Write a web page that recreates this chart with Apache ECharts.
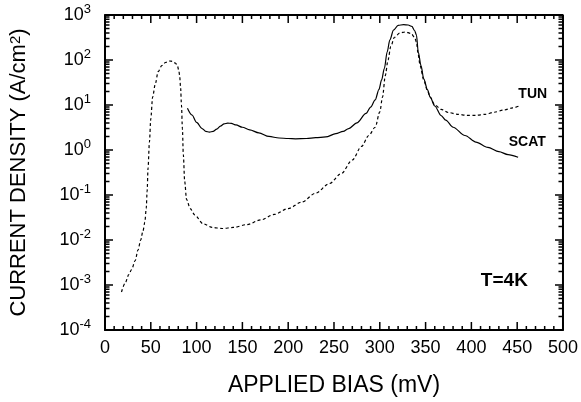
<!DOCTYPE html>
<html>
<head>
<meta charset="utf-8">
<script src="https://cdn.jsdelivr.net/npm/echarts@6/dist/echarts.min.js"></script>
<style>
  html, body { margin: 0; background: #fff; }
  #chart { width: 581px; height: 402px; }
</style>
</head>
<body>
<div id="chart"></div>
<script>
// TUN (dashed)
var tunBias = [18, 22, 26, 29, 33, 36, 39, 41.5, 43.5, 45, 46, 47, 48.5, 50, 52, 55, 58, 62, 66, 70, 74, 77, 79, 80.5, 81.5, 82.5, 83.5, 84.5, 85.5, 87, 89, 93, 98, 107, 117, 128, 140, 155, 170, 185, 200, 215, 230, 245, 258, 270, 280, 288, 295, 300, 303, 306, 309, 312, 316, 322, 328, 334, 338, 340, 342, 344, 348, 352, 355, 360, 367, 375, 385, 395, 405, 415, 425, 435, 445, 452]
var tunDensity = [7e-4, 1.1e-3, 1.7e-3, 2.2e-3, 3.5e-3, 6e-3, 1e-2, 1.6e-2, 2.5e-2, 5e-2, 0.12, 0.4, 1.5, 5, 15, 30, 55, 75, 88, 95, 93, 85, 75, 60, 45, 25, 10, 3, 0.8, 0.2, 0.08, 0.05, 0.036, 0.023, 0.019, 0.018, 0.019, 0.022, 0.028, 0.037, 0.05, 0.07, 0.11, 0.18, 0.3, 0.6, 1.2, 2.1, 3.2, 7, 15, 45, 100, 200, 320, 400, 420, 390, 320, 250, 130, 75, 36, 21, 15, 10, 8, 6.8, 6.2, 5.9, 5.9, 6.2, 6.9, 7.7, 8.6, 9.5]
// SCAT (solid)
var scatBias = [90, 95, 100, 106, 110, 114, 118, 122, 126, 130, 134, 138, 143, 150, 158, 168, 179, 190, 200, 208, 220, 230, 241, 252, 260, 266, 275, 285, 290, 295, 299, 302, 305, 308, 311, 315, 320, 326, 331, 335, 338, 340, 342, 345, 348, 352, 355, 360, 367, 372, 380, 393, 405, 418, 430, 440, 451]
var scatDensity = [8.5, 6, 4.1, 3, 2.6, 2.5, 2.6, 2.9, 3.4, 3.8, 3.95, 3.9, 3.6, 3.2, 2.8, 2.4, 2.0, 1.85, 1.8, 1.77, 1.8, 1.88, 1.95, 2.3, 2.6, 3, 4, 6.5, 9, 13, 22, 36, 65, 150, 280, 460, 590, 610, 600, 560, 450, 360, 150, 75, 38, 22, 15, 9.5, 5.8, 4.6, 3.2, 2.1, 1.5, 1.14, 0.92, 0.79, 0.69]
// axis ticks
var biasTicks = [0, 50, 100, 150, 200, 250, 300, 350, 400, 450, 500]
var biasMinorSteps = [10, 20, 30, 40]
var decades = [-4, -3, -2, -1, 0, 1, 2, 3]
var decadeMinorSteps = [2, 3, 4, 5, 6, 7, 8, 9]

var font = 'Liberation Sans, Arial, Helvetica, sans-serif'
var xMin = 0, xMax = 500, yMin = 1e-4, yMax = 1e3

function pairs (xs, ys) {
  return xs.map(function (x, i) { return [x, ys[i]] })
}

var chart = echarts.init(document.getElementById('chart'))

chart.setOption({
  animation: false,
  grid: { left: 105, right: 16, top: 15, bottom: 59 },
  xAxis: [{
    type: 'value', min: xMin, max: xMax, interval: 50, position: 'bottom',
    axisLine: { show: true, onZero: false, lineStyle: { color: '#000', width: 2 } },
    axisTick: { show: false },
    splitLine: { show: false },
    name: 'APPLIED BIAS (mV)', nameLocation: 'middle', nameGap: 44,
    nameTextStyle: { fontFamily: font, fontSize: 23, color: '#000' },
    axisLabel: { fontFamily: font, fontSize: 18, color: '#000', margin: 9 }
  }],
  yAxis: [{
    type: 'log', logBase: 10, min: yMin, max: yMax, position: 'left',
    axisLine: { show: true, onZero: false, lineStyle: { color: '#000', width: 2 } },
    axisTick: { show: false },
    splitLine: { show: false },
    name: '{n|CURRENT DENSITY (A/cm}{s|2}{n|)}', nameLocation: 'middle', nameGap: 75,
    nameTextStyle: { rich: {
      n: { fontFamily: font, fontSize: 22, color: '#000' },
      s: { fontFamily: font, fontSize: 15, color: '#000', verticalAlign: 'top' } } },
    axisLabel: { margin: 14,
      formatter: function (v) { return '{b|10}{e|' + Math.round(Math.log10(v)) + '}' },
      rich: {
        b: { fontFamily: font, fontSize: 18, color: '#000', lineHeight: 24 },
        e: { fontFamily: font, fontSize: 13, color: '#000', verticalAlign: 'top' } } }
  }],
  series: [
    {
      id: 'tun',
      name: 'TUN',
      type: 'line',
      data: pairs(tunBias, tunDensity),
      showSymbol: false,
      smooth: 0.3,
      smoothMonotone: 'x',
      lineStyle: { color: '#000', width: 1.2, type: [3, 2.5] },
      markPoint: {
        symbol: 'circle',
        symbolSize: 0,
        label: { show: true, position: 'inside', formatter: 'TUN', fontFamily: font, fontSize: 14, fontWeight: 'bold', color: '#000' },
        data: [{ coord: [467, 17.8] }]
      }
    },
    {
      id: 'scat',
      name: 'SCAT',
      type: 'line',
      data: pairs(scatBias, scatDensity),
      showSymbol: false,
      smooth: 0.3,
      smoothMonotone: 'x',
      lineStyle: { color: '#000', width: 1.2 },
      markPoint: {
        symbol: 'circle',
        symbolSize: 0,
        label: { show: true, position: 'inside', fontFamily: font, fontWeight: 'bold', color: '#000',
          formatter: function (p) { return p.name } },
        data: [
          { name: 'SCAT', coord: [461, 1.52], label: { fontSize: 14 } },
          { name: 'T=4K', coord: [436, 1.23e-3], label: { fontSize: 19 } }
        ]
      }
    }
  ]
})

// frame and inward ticks, built through the axes' own pixel <-> value mapping
var finder = { xAxisIndex: 0, yAxisIndex: 0 }
var tickData = []
function tick (from, dx, dy) {
  var p = chart.convertToPixel(finder, from)
  var q = chart.convertFromPixel(finder, [p[0] + dx, p[1] + dy])
  tickData.push(from, q, ['-', '-'])
}
biasTicks.forEach(function (t) {
  tick([t, yMin], 0, -8)
  tick([t, yMax], 0, 8)
  if (t < xMax) {
    biasMinorSteps.forEach(function (s) {
      tick([t + s, yMin], 0, -4)
      tick([t + s, yMax], 0, 4)
    })
  }
})
decades.forEach(function (k) {
  var v = Math.pow(10, k)
  tick([xMin, v], 8, 0)
  tick([xMax, v], -8, 0)
  if (k < 3) {
    decadeMinorSteps.forEach(function (m) {
      tick([xMin, m * v], 4.5, 0)
      tick([xMax, m * v], -4.5, 0)
    })
  }
})

var decoration = {
  type: 'line',
  showSymbol: false,
  symbol: 'none',
  clip: false,
  silent: true,
  connectNulls: false,
  z: 10
}

chart.setOption({
  series: [
    Object.assign({}, decoration, {
      id: 'frame',
      data: [[xMin, yMin], [xMax, yMin], [xMax, yMax], [xMin, yMax], [xMin, yMin]],
      lineStyle: { color: '#000', width: 2 }
    }),
    Object.assign({}, decoration, {
      id: 'ticks',
      data: tickData,
      lineStyle: { color: '#000', width: 1.5 }
    })
  ]
})
</script>
</body>
</html>
